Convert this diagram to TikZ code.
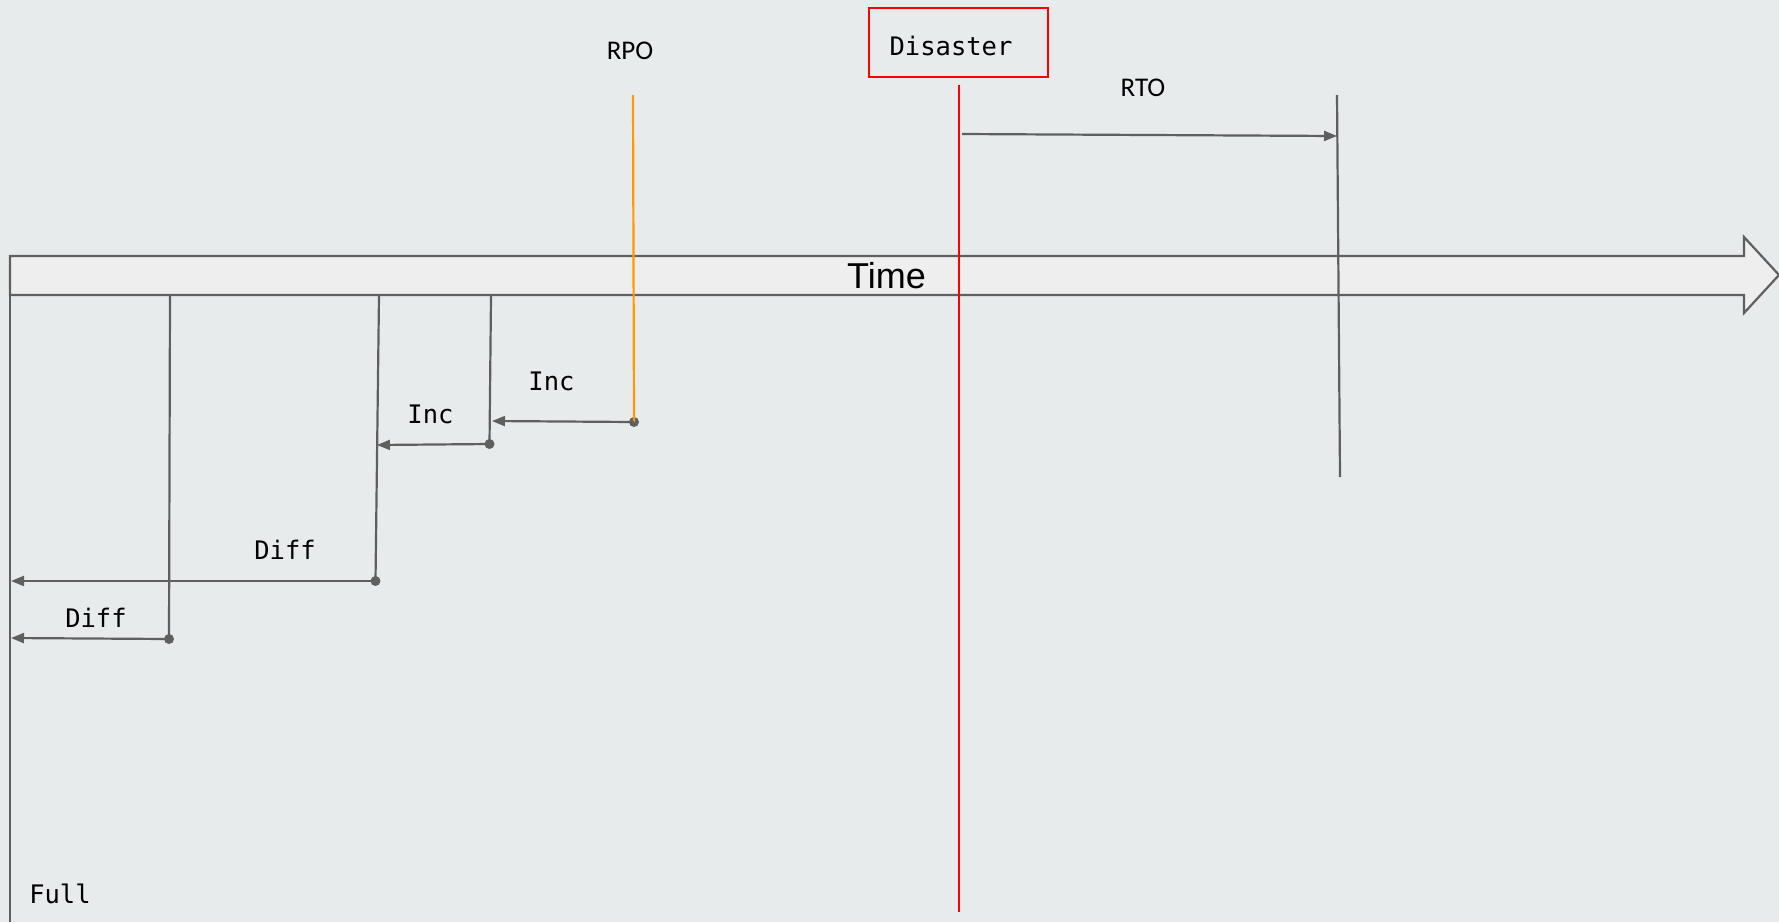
\documentclass[tikz,border=0pt]{standalone}
\usepackage{fontspec}
\setmainfont{Liberation Sans}
\newfontfamily\monofnt{DejaVu Sans Mono}
\newfontfamily\calfnt{Carlito}
\usetikzlibrary{arrows.meta}
\definecolor{bgc}{RGB}{232,235,236}
\definecolor{barfill}{RGB}{238,238,238}
\definecolor{lnc}{RGB}{95,95,95}
\definecolor{redc}{RGB}{255,0,0}
\definecolor{orc}{RGB}{255,153,0}
\tikzset{
  gline/.style={draw=lnc, line width=2.2pt},
  garrow/.style={draw=lnc, line width=2.2pt, -{Triangle[length=13pt,width=10pt]}},
  dotc/.style={circle, fill=lnc, inner sep=0pt, minimum size=10pt},
  mono/.style={font=\monofnt\fontsize{25.5}{30}\selectfont, inner sep=0pt, text=black},
  cal/.style={font=\calfnt\fontsize{27}{32}\selectfont, inner sep=0pt, text=black},
}
\begin{document}
\begin{tikzpicture}[x=1pt,y=-1pt]
\fill[bgc] (0,0) rectangle (1779,922);
\useasboundingbox (0,0) rectangle (1779,922);
% time bar
\draw[draw=lnc, fill=barfill, line width=2.2pt, line join=miter]
  (10,256) -- (1744,256) -- (1744,237) -- (1779,275) -- (1744,313) -- (1744,295) -- (10,295) -- cycle;
\node[font=\fontsize{36}{40}\selectfont, inner sep=0pt] (time) at (886.5,276) {Time};
% coordinates
\coordinate (fullT) at (10,270);
\coordinate (fullB) at (10,922);
\coordinate (d2T) at (170,296);
\node[dotc] (d2) at (169,639) {};
\coordinate (d1T) at (379,296);
\node[dotc] (d1) at (375.5,581) {};
\coordinate (i2T) at (491,296);
\node[dotc] (i2) at (489.5,444) {};
\coordinate (rpoT) at (633,95);
\node[dotc] (i1) at (634,422) {};
\coordinate (disT) at (959,85);
\coordinate (disB) at (959,912);
\coordinate (rtoT) at (1337,95);
\coordinate (rtoB) at (1340,477);
% verticals
\draw[gline] (fullT) -- (fullB);
\draw[gline] (d2T) -- (d2.center);
\draw[gline] (d1T) -- (d1.center);
\draw[gline] (i2T) -- (i2.center);
\draw[draw=orc, line width=2.2pt] (rpoT) -- (i1.center);
\draw[draw=redc, line width=2.2pt] (disT) -- (disB);
\draw[gline] (rtoT) -- (rtoB);
% arrow targets
\coordinate (a1) at (492,421);
\coordinate (a2) at (377,445);
\coordinate (a3) at (11,581);
\coordinate (a4) at (11,638);
\coordinate (rtoS) at (962,134);
\coordinate (rtoE) at (1337,136);
\draw[garrow] (i1.center) -- (a1);
\draw[garrow] (i2.center) -- (a2);
\draw[garrow] (d1.center) -- (a3);
\draw[garrow] (d2.center) -- (a4);
\draw[garrow] (rtoS) -- (rtoE);
% labels
\node[draw=redc, line width=2.2pt, minimum width=179pt, minimum height=69pt, inner sep=0pt] (disbox) at (958.5,42.5) {};
\node[mono] (dis) at (951,46) {Disaster};
\node[cal] (rpo) at (630,51) {RPO};
\node[cal] (rto) at (1143,88) {RTO};
\node[mono] (inc1) at (551.5,381) {Inc};
\node[mono] (inc2) at (430.5,414) {Inc};
\node[mono] (diff1) at (285,550) {Diff};
\node[mono] (diff2) at (96,618) {Diff};
\node[mono] (full) at (60,894) {Full};
\end{tikzpicture}
\end{document}
